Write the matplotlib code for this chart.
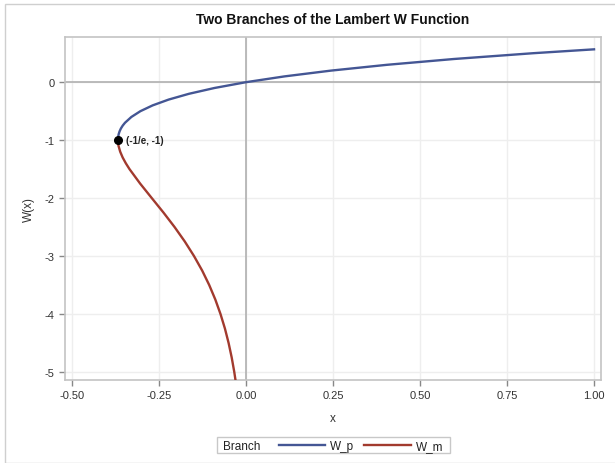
import matplotlib
matplotlib.use("Agg")
import matplotlib.pyplot as plt
from matplotlib.lines import Line2D
from matplotlib.patches import Rectangle

plt.rcParams['font.family'] = ['Liberation Sans', 'DejaVu Sans']

# Upper branch W_p (x, W)
wp_x = [-0.3679, -0.3676, -0.3674, -0.3666, -0.3659, -0.3633, -0.3595, -0.3543, -0.3476,
        -0.3293, -0.3033, -0.2681, -0.2222, -0.1637, -0.0905, 0.0, 0.1105, 0.2443,
        0.4050, 0.5967, 0.8244, 1.0]
wp_y = [-1.0, -0.975, -0.95, -0.925, -0.9, -0.85, -0.8, -0.75, -0.7,
        -0.6, -0.5, -0.4, -0.3, -0.2, -0.1, 0.0, 0.1, 0.2,
        0.3, 0.4, 0.5, 0.5671]

# Lower branch W_m (x, W)
wm_x = [-0.3679, -0.3676, -0.3674, -0.3662, -0.3614, -0.3543, -0.3452, -0.3347, -0.3041,
        -0.2707, -0.2371, -0.2052, -0.1758, -0.1494, -0.1260, -0.1057, -0.0882,
        -0.0733, -0.0606, -0.0500, -0.0411, -0.0337, -0.0287]
wm_y = [-1.0, -1.025, -1.05, -1.1, -1.2, -1.3, -1.4, -1.5, -1.75,
        -2.0, -2.25, -2.5, -2.75, -3.0, -3.25, -3.5, -3.75,
        -4.0, -4.25, -4.5, -4.75, -5.0, -5.2]

branch_point = (-0.3679, -1.0)
branch_label = "(-1/e, -1)"
x_ticks = [-0.50, -0.25, 0.00, 0.25, 0.50, 0.75, 1.00]
y_ticks = [0, -1, -2, -3, -4, -5]
legend_title = "Branch"
series_names = ["W_p", "W_m"]

W, H = 615, 464
fig = plt.figure(figsize=(W / 100, H / 100), dpi=100)
ax = fig.add_axes([65 / W, 1 - 381 / H, (601 - 65) / W, (381 - 38) / H])

blue = "#445694"
red = "#A23A2E"
grid_c = "#eeeeee"
frame_c = "#c4c4c4"

ax.set_xlim(-0.52, 1.02)
ax.set_ylim(-5.14, 0.78)
ax.set_xticks(x_ticks)
ax.set_xticklabels([f"{v:.2f}" for v in x_ticks])
ax.set_yticks(y_ticks)
ax.set_yticklabels([f"{v}" for v in y_ticks])
ax.grid(True, color=grid_c, linewidth=1)
ax.set_axisbelow(True)
ax.axhline(0, color="#b0b0b0", linewidth=1.2, zorder=1)
ax.axvline(0, color="#b0b0b0", linewidth=1.2, zorder=1)

ax.plot(wp_x, wp_y, color=blue, linewidth=1.7, zorder=3, label=series_names[0])
ax.plot(wm_x, wm_y, color=red, linewidth=1.7, zorder=3, label=series_names[1])
ax.plot([branch_point[0]], [branch_point[1]], 'o', color='black', markersize=5.5, zorder=4)
ax.annotate(branch_label, xy=branch_point, xytext=(6, 0), textcoords='offset points',
            fontsize=7, fontweight='bold', va='center', color='#222222')

for s in ax.spines.values():
    s.set_color(frame_c)
    s.set_linewidth(1.2)
ax.tick_params(colors="#888888", labelcolor="#333333", labelsize=8, length=4, width=1)

ax.set_xlabel("x", fontsize=8.5, color="#333333", labelpad=8)
ax.set_ylabel("W(x)", fontsize=8.5, color="#333333", labelpad=7)
ax.set_title("Two Branches of the Lambert W Function", fontsize=10, fontweight='bold',
             color="#111111", pad=10)

# Legend (SAS style: title to the left of the entries)
def px(x, y):
    return x / W, 1 - y / H

ly = 446
base = 450
fig.patches.append(Rectangle(px(217, 454), (450 - 217) / W, (454 - 438) / H,
                             transform=fig.transFigure, fill=False,
                             edgecolor="#c8c8c8", linewidth=1))
fig.text(*px(223, base), legend_title, fontsize=8.5, color="#222222", va='baseline', ha='left')
for (x0, x1, tx), c, name in zip([(279, 325, 330), (364, 411, 416)], [blue, red], series_names):
    fig.add_artist(Line2D([x0 / W, x1 / W], [1 - ly / H, 1 - ly / H], color=c,
                          linewidth=1.7, transform=fig.transFigure))
    fig.text(*px(tx, base), name, fontsize=8.5, color="#222222", va='baseline', ha='left')

fig.patches.append(Rectangle((5 / W, 0), 1, 1 - 5 / H, transform=fig.transFigure,
                             fill=False, edgecolor="#cfcfcf", linewidth=1))

fig.savefig("out.png", dpi=100)
